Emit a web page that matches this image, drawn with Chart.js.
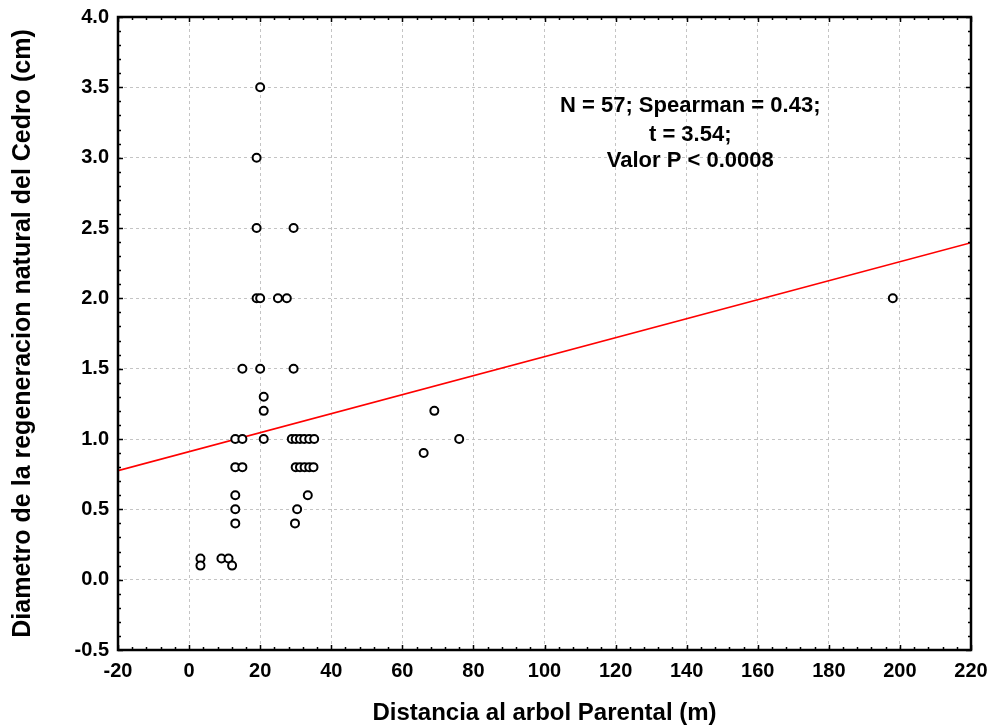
<!DOCTYPE html>
<html>
<head>
<meta charset="utf-8">
<script src="https://cdn.jsdelivr.net/npm/chart.js@4.4.1/dist/chart.umd.min.js"></script>
<style>
  html, body { margin: 0; padding: 0; background: #fff; }
  #wrap { width: 992px; height: 728px; }
</style>
</head>
<body>
<div id="wrap"><canvas id="scatter" width="992" height="728"></canvas></div>
<script>
// distance to parent tree (m) and diameter of regeneration (cm)
var distance = [
  20, 19, 19, 29.4, 19, 20, 25, 27.5, 198,
  15, 20, 29.4, 21, 21, 69,
  13, 15, 21, 28.9, 30, 31.2, 32.4, 33.8, 35.2, 76,
  66,
  13, 15, 30, 31.2, 32.5, 33.8, 35,
  13, 33.4,
  13, 30.4,
  13, 29.8,
  3.2, 9.1, 11.1,
  3.2, 12.1
];
var diameter = [
  3.5, 3.0, 2.5, 2.5, 2.0, 2.0, 2.0, 2.0, 2.0,
  1.5, 1.5, 1.5, 1.3, 1.2, 1.2,
  1.0, 1.0, 1.0, 1.0, 1.0, 1.0, 1.0, 1.0, 1.0, 1.0,
  0.9,
  0.8, 0.8, 0.8, 0.8, 0.8, 0.8, 0.8,
  0.6, 0.6,
  0.5, 0.5,
  0.4, 0.4,
  0.15, 0.15, 0.15,
  0.1, 0.1
];

// fitted line, end points
var fitX = [-20, 220];
var fitY = [0.775, 2.395];

var xTicks = [-20, 0, 20, 40, 60, 80, 100, 120, 140, 160, 180, 200, 220];
var yTicks = [-0.5, 0.0, 0.5, 1.0, 1.5, 2.0, 2.5, 3.0, 3.5, 4.0];

var statsLines = ['N = 57; Spearman = 0.43;', 't = 3.54;', 'Valor P < 0.0008'];

var FONT = '"Liberation Sans", Arial, sans-serif';

function zip(xs, ys) {
  return xs.map(function (x, i) { return { x: x, y: ys[i] }; });
}

// frame round the plot with inward ticks on all four sides
var framePlugin = {
  id: 'frame',
  afterDraw: function (chart) {
    var ctx = chart.ctx;
    var a = chart.chartArea;
    var xs = chart.scales.x, ys = chart.scales.y;
    ctx.save();
    ctx.strokeStyle = '#000';
    ctx.lineWidth = 1.5;
    var v, p, len;
    ctx.beginPath();
    for (v = -20; v <= 220.001; v += 4) {
      p = Math.round(xs.getPixelForValue(v)) + 0.5;
      len = (Math.round(v) % 20 === 0) ? 5 : 3;
      ctx.moveTo(p, a.bottom); ctx.lineTo(p, a.bottom - len);
      ctx.moveTo(p, a.top); ctx.lineTo(p, a.top + len);
    }
    for (v = -5; v <= 40; v += 1) {
      p = Math.round(ys.getPixelForValue(v / 10)) + 0.5;
      len = (v % 5 === 0) ? 5 : 3;
      ctx.moveTo(a.left, p); ctx.lineTo(a.left + len, p);
      ctx.moveTo(a.right, p); ctx.lineTo(a.right - len, p);
    }
    ctx.stroke();
    ctx.lineWidth = 2.5;
    ctx.strokeRect(a.left, a.top, a.right - a.left, a.bottom - a.top);
    ctx.restore();
  }
};

// stats text block
var statsPlugin = {
  id: 'stats',
  afterDatasetsDraw: function (chart) {
    var ctx = chart.ctx;
    var cx = chart.scales.x.getPixelForValue(141);
    var top = chart.chartArea.top;
    ctx.save();
    ctx.fillStyle = '#000';
    ctx.font = 'bold 22px ' + FONT;
    ctx.textAlign = 'center';
    ctx.textBaseline = 'middle';
    var offs = [89, 118, 144];
    statsLines.forEach(function (t, i) { ctx.fillText(t, cx, top + offs[i]); });
    ctx.restore();
  }
};

new Chart(document.getElementById('scatter'), {
  type: 'scatter',
  data: {
    datasets: [{
      label: 'Diametro',
      data: zip(distance, diameter),
      pointStyle: 'circle',
      pointRadius: 4,
      pointHoverRadius: 4,
      pointBackgroundColor: '#fff',
      pointBorderColor: '#000',
      pointBorderWidth: 2,
      order: 1
    }, {
      type: 'line',
      label: 'Ajuste',
      data: zip(fitX, fitY),
      borderColor: '#ff0000',
      borderWidth: 1.6,
      pointRadius: 0,
      fill: false,
      order: 2
    }]
  },
  options: {
    responsive: false,
    animation: false,
    devicePixelRatio: 1,
    layout: { padding: { top: 17, right: 21, bottom: 0, left: 0 } },
    plugins: {
      legend: { display: false },
      tooltip: { enabled: false }
    },
    scales: {
      x: {
        type: 'linear',
        min: -20,
        max: 220,
        afterBuildTicks: function (s) { s.ticks = xTicks.map(function (v) { return { value: v }; }); },
        afterFit: function (s) { s.height = 78; s.paddingLeft = 0; s.paddingRight = 0; },
        ticks: {
          color: '#000',
          padding: 9,
          maxRotation: 0,
          font: { family: FONT, size: 20, weight: 'bold' }
        },
        grid: { color: '#c4c4c4', lineWidth: 1, drawTicks: false },
        border: { display: false, dash: [3, 3] },
        title: {
          display: true,
          text: 'Distancia al arbol Parental (m)',
          color: '#000',
          padding: { top: 0, bottom: 0 },
          font: { family: FONT, size: 24, weight: 'bold' }
        }
      },
      y: {
        type: 'linear',
        min: -0.5,
        max: 4.0,
        afterBuildTicks: function (s) { s.ticks = yTicks.map(function (v) { return { value: v }; }); },
        afterFit: function (s) { s.width = 118; s.paddingTop = 0; s.paddingBottom = 0; },
        ticks: {
          color: '#000',
          padding: 9,
          font: { family: FONT, size: 20, weight: 'bold' },
          callback: function (v) { return Number(v).toFixed(1); }
        },
        grid: { color: '#c4c4c4', lineWidth: 1, drawTicks: false },
        border: { display: false, dash: [3, 3] },
        title: {
          display: true,
          text: 'Diametro de la regeneracion natural del Cedro (cm)',
          color: '#000',
          padding: { top: 8, bottom: 0 },
          font: { family: FONT, size: 25, weight: 'bold' }
        }
      }
    }
  },
  plugins: [statsPlugin, framePlugin]
});
</script>
</body>
</html>
